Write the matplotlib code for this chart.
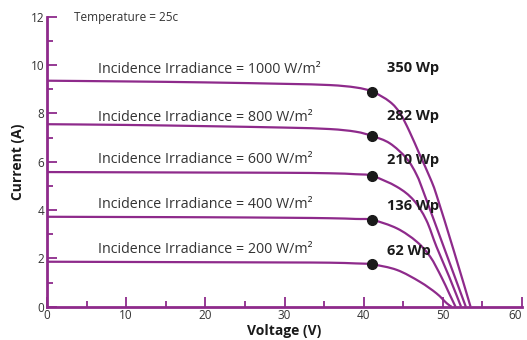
import numpy as np
import matplotlib
matplotlib.use("Agg")
import matplotlib.pyplot as plt
from matplotlib.path import Path
from matplotlib.patches import PathPatch

plt.rcParams['font.family'] = ['Open Sans', 'DejaVu Sans']

# I-V curves read per irradiance level (voltage in V, current in A)
irradiance = [1000, 800, 600, 400, 200]
peak_power = [350, 282, 210, 136, 62]

v_1000 = [0, 10, 20, 30, 35.7, 39, 41.1, 43.3, 44.6, 45.8, 47.1, 48.4, 49.2, 51.4, 53.5]
i_1000 = [9.35, 9.32, 9.28, 9.22, 9.17, 9.07, 8.90, 8.48, 8.00, 7.24, 6.28, 5.32, 4.62, 2.30, 0]

v_800 = [0, 10, 20, 30, 35.7, 39, 41.1, 43.3, 45.4, 46.7, 47.7, 50.3, 52.9]
i_800 = [7.55, 7.52, 7.47, 7.41, 7.35, 7.24, 7.06, 6.76, 6.14, 5.45, 4.62, 2.31, 0]

v_600 = [0, 10, 20, 30, 35.7, 39, 41.1, 44.2, 46.3, 47.9, 49.2, 50.8, 52.3]
i_600 = [5.57, 5.56, 5.55, 5.54, 5.52, 5.48, 5.41, 4.96, 4.41, 3.59, 2.48, 1.24, 0]

v_400 = [0, 10, 20, 30, 35.7, 39, 41.1, 44.2, 46.7, 48.4, 49.8, 50.8, 51.6]
i_400 = [3.72, 3.71, 3.70, 3.68, 3.66, 3.63, 3.59, 3.24, 2.69, 2.07, 1.24, 0.55, 0]

v_200 = [0, 10, 20, 30, 35.7, 39, 41.1, 44.2, 47.1, 49.2, 50.5, 51.1]
i_200 = [1.86, 1.85, 1.84, 1.83, 1.82, 1.79, 1.75, 1.52, 1.03, 0.55, 0.14, 0]

curves_v = [v_1000, v_800, v_600, v_400, v_200]
curves_i = [i_1000, i_800, i_600, i_400, i_200]

# maximum power points
mpp_v = [41.1, 41.1, 41.1, 41.1, 41.1]
mpp_i = [8.90, 7.06, 5.41, 3.59, 1.75]

# label anchors (voltage, current)
irr_label_v = 6.4
irr_label_i = [9.83, 7.84, 6.07, 4.21, 2.35]
wp_label_v = 42.9
wp_label_i = [9.87, 7.89, 6.07, 4.17, 2.31]

purple = '#8e2a8b'
text_col = '#333333'


def smooth_path(ax, xs, ys):
    # Catmull-Rom through the points, drawn in display space as cubic Beziers
    pts = ax.transData.transform(np.column_stack([xs, ys]))
    verts = [pts[0]]
    codes = [Path.MOVETO]
    n = len(pts)
    for k in range(n - 1):
        p0 = pts[max(k - 1, 0)]
        p1 = pts[k]
        p2 = pts[k + 1]
        p3 = pts[min(k + 2, n - 1)]
        c1 = p1 + (p2 - p0) / 6.0
        c2 = p2 - (p3 - p1) / 6.0
        verts += [c1, c2, p2]
        codes += [Path.CURVE4] * 3
    return Path(ax.transData.inverted().transform(np.array(verts)), codes)


fig = plt.figure(figsize=(5.27, 3.40), dpi=100)
ax = fig.add_axes([0.0892, 0.098, 0.9013, 0.853])
ax.set_xlim(0, 60)
ax.set_ylim(0, 12)

for v, i in zip(curves_v, curves_i):
    ax.add_patch(PathPatch(smooth_path(ax, v, i), facecolor='none',
                           edgecolor=purple, lw=1.6, zorder=2))

ax.plot(mpp_v, mpp_i, 'o', color='#1a1a1a', ms=7, zorder=3)

for irr, y in zip(irradiance, irr_label_i):
    ax.text(irr_label_v, y, f'Incidence Irradiance = {irr} W/m\u00b2',
            fontsize=10.3, color=text_col, va='center', ha='left')

for p, y in zip(peak_power, wp_label_i):
    ax.text(wp_label_v, y, f'{p} Wp', fontsize=10.5, fontweight='bold',
            color='#1a1a1a', va='center', ha='left')

ax.text(3.4, 11.95, 'Temperature = 25c', fontsize=8.5, color=text_col,
        va='center', ha='left')

ax.set_xticks(np.arange(0, 61, 10))
ax.set_xticks(np.arange(0, 61, 5), minor=True)
ax.set_yticks(np.arange(0, 13, 2))
ax.set_yticks(np.arange(0, 13, 1), minor=True)

for side in ['top', 'right']:
    ax.spines[side].set_visible(False)
for side in ['left', 'bottom']:
    ax.spines[side].set_color(purple)
    ax.spines[side].set_linewidth(2)

ax.tick_params(which='major', direction='in', length=7, width=1.3,
               color=purple, labelsize=8.5, labelcolor=text_col, pad=2)
ax.tick_params(which='minor', direction='in', length=4, width=1.3, color=purple)
ax.get_xticklabels()[-1].set_horizontalalignment('right')

ax.set_xlabel('Voltage (V)', fontsize=10, fontweight='bold', color='#1a1a1a', labelpad=1)
ax.set_ylabel('Current (A)', fontsize=10, fontweight='bold', color='#1a1a1a', labelpad=4)

fig.savefig('out.png', dpi=100)
